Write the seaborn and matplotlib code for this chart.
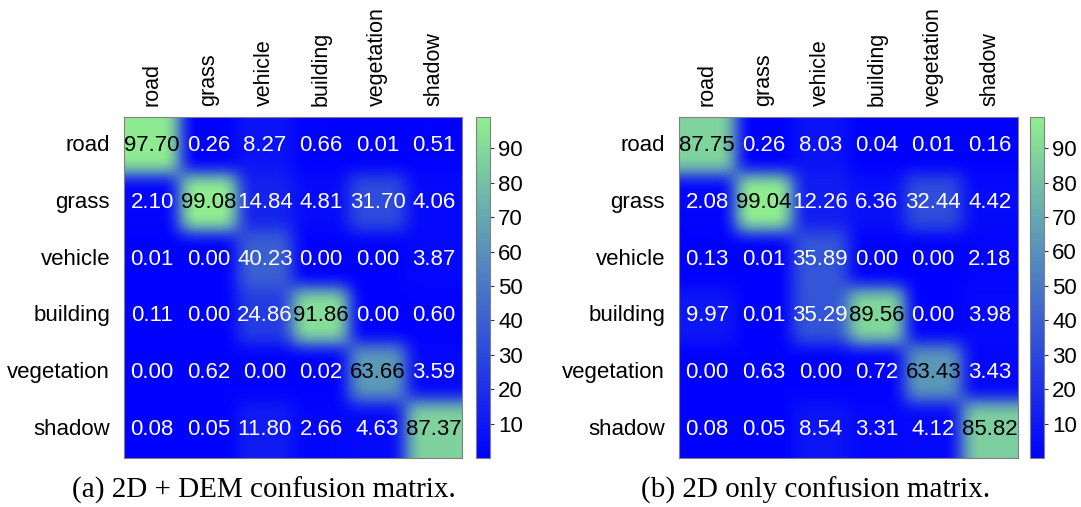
import numpy as np
import matplotlib
matplotlib.use("Agg")
import matplotlib.pyplot as plt
from matplotlib.colors import LinearSegmentedColormap
import seaborn as sns

classes = ["road", "grass", "vehicle", "building", "vegetation", "shadow"]

dem_road = [97.70, 0.26, 8.27, 0.66, 0.01, 0.51]
dem_grass = [2.10, 99.08, 14.84, 4.81, 31.70, 4.06]
dem_vehicle = [0.01, 0.00, 40.23, 0.00, 0.00, 3.87]
dem_building = [0.11, 0.00, 24.86, 91.86, 0.00, 0.60]
dem_vegetation = [0.00, 0.62, 0.00, 0.02, 63.66, 3.59]
dem_shadow = [0.08, 0.05, 11.80, 2.66, 4.63, 87.37]

only_road = [87.75, 0.26, 8.03, 0.04, 0.01, 0.16]
only_grass = [2.08, 99.04, 12.26, 6.36, 32.44, 4.42]
only_vehicle = [0.13, 0.01, 35.89, 0.00, 0.00, 2.18]
only_building = [9.97, 0.01, 35.29, 89.56, 0.00, 3.98]
only_vegetation = [0.00, 0.63, 0.00, 0.72, 63.43, 3.43]
only_shadow = [0.08, 0.05, 8.54, 3.31, 4.12, 85.82]

captions = ["(a) 2D + DEM confusion matrix.", "(b) 2D only confusion matrix."]
cbar_ticks = [10, 20, 30, 40, 50, 60, 70, 80, 90]

sns.set_style("white")
plt.rcParams["font.family"] = ["Liberation Sans", "DejaVu Sans"]
plt.rcParams["text.color"] = "black"
plt.rcParams["xtick.labelcolor"] = "black"
plt.rcParams["ytick.labelcolor"] = "black"

cmap = LinearSegmentedColormap.from_list("blue_lightgreen", ["#0000ff", "#90ee90"])

mat_a = np.array([dem_road, dem_grass, dem_vehicle, dem_building, dem_vegetation, dem_shadow])
mat_b = np.array([only_road, only_grass, only_vehicle, only_building, only_vegetation, only_shadow])


def _box(a, r, axis):
    # running mean of width 2r+1 along one axis, edges replicated
    pad = [(0, 0)] * a.ndim
    pad[axis] = (r + 1, r)
    p = np.pad(a, pad, mode="edge")
    c = np.cumsum(p, axis=axis)
    n = a.shape[axis]
    hi = np.take(c, np.arange(2 * r + 1, 2 * r + 1 + n), axis=axis)
    lo = np.take(c, np.arange(0, n), axis=axis)
    return (hi - lo) / (2 * r + 1)


def soften(img, dpi):
    out = img.copy()
    for _ in range(2):
        out = _box(_box(out, 9, 0), 9, 1)
    out[..., 3] = 1.0
    return out, 0, 0


W, H = 1081, 507
fig = plt.figure(figsize=(W / 100, H / 100), dpi=100)

panels = [
    (mat_a, (124, 117, 338, 341), (476, 14), 264),
    (mat_b, (679, 117, 339, 341), (1030, 14), 816),
]

fs = 16
frame = "#808080"
for (mat, (x, y, w, h), (cx, cw), cap_x), cap in zip(panels, captions):
    ax = fig.add_axes([x / W, 1 - (y + h) / H, w / W, h / H])
    cax = fig.add_axes([cx / W, 1 - (y + h) / H, cw / W, h / H])
    vmax = mat.max()
    sns.heatmap(mat, ax=ax, cbar_ax=cax, cmap=cmap, vmin=0, vmax=vmax,
                annot=True, fmt=".2f", annot_kws={"size": fs},
                xticklabels=classes, yticklabels=classes)
    mesh = ax.collections[0]
    mesh.set_agg_filter(soften)
    cbar = mesh.colorbar
    for t in ax.texts:
        t.set_color("black" if float(t.get_text()) >= 50 else "white")
    ax.xaxis.tick_top()
    ax.tick_params(axis="y", length=0, labelsize=fs, pad=10)
    ax.tick_params(axis="x", length=0, labelsize=15.5, pad=8)
    plt.setp(ax.get_xticklabels(), rotation=90, ha="center", va="bottom")
    plt.setp(ax.get_yticklabels(), rotation=0)
    for s in ax.spines.values():
        s.set_visible(True)
        s.set_color(frame)
        s.set_linewidth(0.8)
    cbar.set_ticks(cbar_ticks)
    cax.tick_params(labelsize=fs, length=3, width=0.8, color="#333333", pad=3)
    cbar.outline.set_edgecolor(frame)
    cbar.outline.set_linewidth(0.8)
    fig.text(cap_x / W, 1 - 490 / H, cap, ha="center", va="center",
             fontsize=21, family=["Liberation Serif", "DejaVu Serif"])

fig.savefig("out.png", dpi=100)
